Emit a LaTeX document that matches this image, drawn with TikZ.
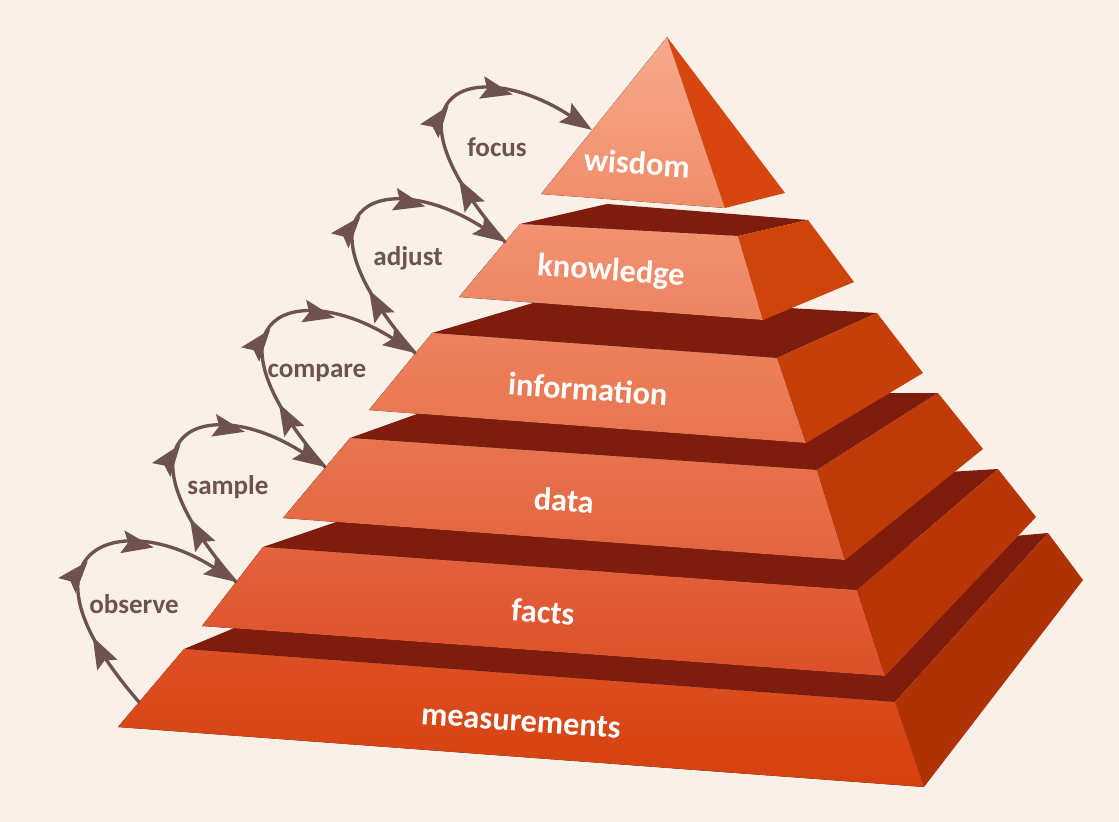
\documentclass[tikz,border=0pt]{standalone}
\usepackage{fontspec}
\setmainfont{Carlito}
\usetikzlibrary{arrows.meta,decorations.markings}
\definecolor{bgc}{RGB}{249,241,232}
\definecolor{topc}{RGB}{126,28,13}
\definecolor{loopc}{RGB}{110,82,82}
% front faces (top/bottom) and right faces
\definecolor{wfa}{RGB}{247,170,140}\definecolor{wfb}{RGB}{239,140,106}\definecolor{ws}{RGB}{214,70,14}
\definecolor{kfa}{RGB}{241,146,112}\definecolor{kfb}{RGB}{237,132,98}\definecolor{ks}{RGB}{206,68,10}
\definecolor{ifa}{RGB}{237,130,94}\definecolor{ifb}{RGB}{232,116,78}\definecolor{is}{RGB}{198,62,8}
\definecolor{dfa}{RGB}{233,116,80}\definecolor{dfb}{RGB}{226,100,62}\definecolor{ds}{RGB}{190,58,8}
\definecolor{ffa}{RGB}{228,98,62}\definecolor{ffb}{RGB}{220,80,40}\definecolor{fs}{RGB}{184,54,6}
\definecolor{mfa}{RGB}{221,80,36}\definecolor{mfb}{RGB}{213,64,14}\definecolor{ms}{RGB}{174,50,6}
\tikzset{
  loopline/.style={draw=loopc, line width=0.95pt, ->, postaction={decorate},
    decoration={markings,
      mark=at position 0.25 with {\arrow{>}},
      mark=at position 0.5 with {\arrow{>}},
      mark=at position 0.72 with {\arrow{>}}}},
  tierlabel/.style={text=white, font=\fontsize{9.2}{11}\selectfont\bfseries, rotate=-4},
  looplabel/.style={text=loopc, font=\fontsize{7.7}{9}\selectfont\bfseries}
}
\begin{document}
\begin{tikzpicture}[x=0.01cm, y=-0.01cm, line join=round, line cap=round, >={Stealth[length=9pt,width=6.4pt,inset=1.5pt]}]
	\fill[bgc] (0,0) rectangle (1119,822);
	\useasboundingbox (0,0) rectangle (1119,822);
	%% Khai bao diem: BL,BR front bottom, BK back bottom, TL,TR front top, TK,TB back top
	\path
	(118,727) coordinate (mBL) (924,787) coordinate (mBR) (1083,580) coordinate (mBK)
	(184,649) coordinate (mTL) (895,702) coordinate (mTR) (1048,533) coordinate (mTK) (304,599) coordinate (mTB)
	(202,626) coordinate (fBL) (885,676) coordinate (fBR) (1036,517) coordinate (fBK)
	(263,547) coordinate (fTL) (857,590) coordinate (fTR) (998,469) coordinate (fTK) (383,506) coordinate (fTB)
	(283,518) coordinate (dBL) (845,560) coordinate (dBR) (983,449) coordinate (dBK)
	(350,438) coordinate (dTL) (817,470) coordinate (dTR) (938,393) coordinate (dTK) (470,395) coordinate (dTB)
	(369,410) coordinate (iBL) (806,443) coordinate (iBR) (923,373) coordinate (iBK)
	(432,333) coordinate (iTL) (777,358) coordinate (iTR) (877,313) coordinate (iTK) (560,295) coordinate (iTB)
	(459,297) coordinate (kBL) (763,320) coordinate (kBR) (854,282) coordinate (kBK)
	(520,224) coordinate (kTL) (738,236) coordinate (kTR) (808,220) coordinate (kTK) (607,204) coordinate (kTB)
	(541,194) coordinate (wBL) (725,208) coordinate (wBR) (785,193) coordinate (wBK)
	(667,37) coordinate (wA)
	;
	%% cac tang
	\foreach \t in {m,f,d,i,k}{
		\fill[topc] (\t TL)--(\t TR)--(\t TK)--(\t TB)--cycle;
		\fill[top color=\t fa, bottom color=\t fb] (\t TL)--(\t TR)--(\t BR)--(\t BL)--cycle;
		\fill[\t s] (\t TR)--(\t TK)--(\t BK)--(\t BR)--cycle;
	}
	\fill[top color=wfa, bottom color=wfb] (wA)--(wBR)--(wBL)--cycle;
	\fill[ws] (wA)--(wBK)--(wBR)--cycle;
	%% nhan
	\foreach \x/\y/\s in {637/163/wisdom, 611/272/knowledge, 588/389/information,
		564/500/data, 543/612/facts, 521/721/measurements}
	\node[tierlabel] at (\x,\y) {\s};
	%% vong mui ten
	\path
	(139,702) coordinate (s1) (236,582) coordinate (s2) (325,467) coordinate (s3)
	(415,353) coordinate (s4) (505,242) coordinate (s5) (592,130) coordinate (s6)
	;
	\foreach \a/\b in {s1/s2,s2/s3,s3/s4,s4/s5,s5/s6}
	\draw[loopline] (\a) .. controls +(-135,-155) and +(-115,-75) .. (\b);
	\foreach \x/\y/\s in {134/604/observe, 228/487/sample, 317/373/compare,
		408/258/adjust, 497/147/focus}
	\node[looplabel] at (\x,\y) {\s};
\end{tikzpicture}
\end{document}
